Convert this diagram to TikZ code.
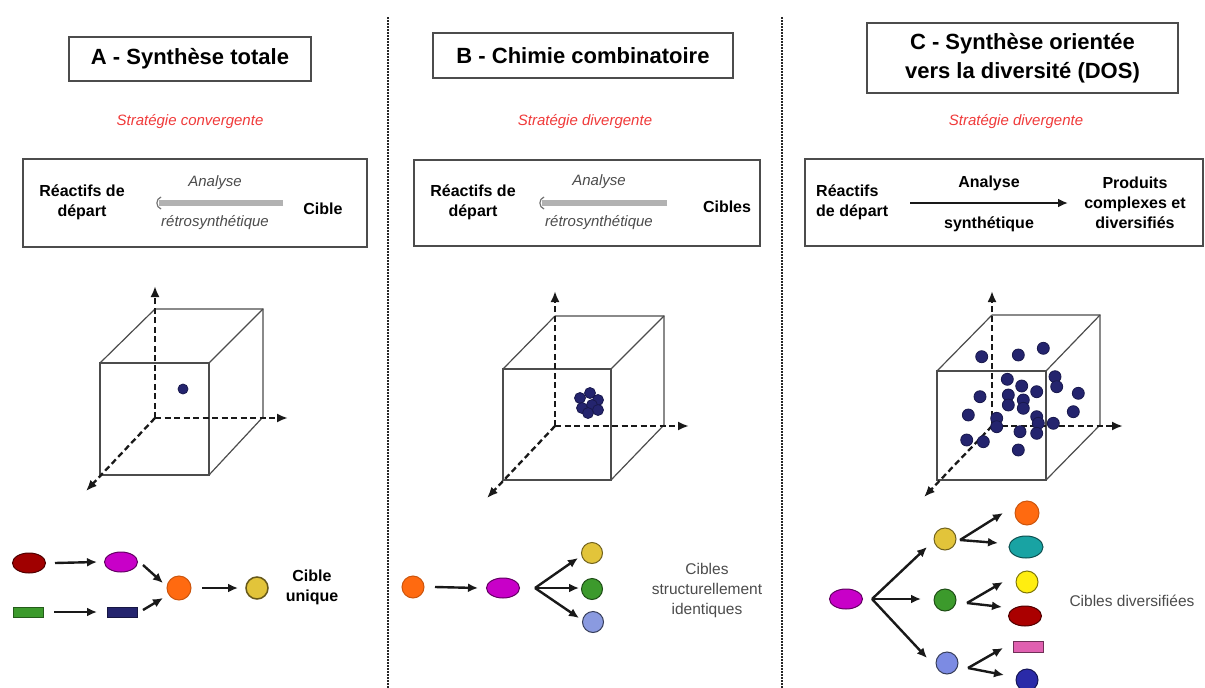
\documentclass[tikz,border=0pt]{standalone}
\usepackage{fontspec}
\setmainfont{Liberation Sans}
\usetikzlibrary{arrows.meta,shapes.geometric}
\definecolor{stratred}{HTML}{F03A3A}
\definecolor{dkred}{HTML}{A00000}
\definecolor{magen}{HTML}{C800C8}
\definecolor{orng}{HTML}{FF6A10}
\definecolor{gold}{HTML}{E2C43A}
\definecolor{grn}{HTML}{3C9A2C}
\definecolor{navy}{HTML}{24246E}
\definecolor{lblue}{HTML}{8A9AE0}
\definecolor{teal2}{HTML}{19A3A3}
\definecolor{ylw}{HTML}{FFEE10}
\definecolor{pink2}{HTML}{E060B0}
\definecolor{dblue}{HTML}{2A2AA8}
\begin{document}
\begin{tikzpicture}[x=1pt,y=-1pt,
  sepline/.style={line width=2.2pt,black!85,dash pattern=on 1.6pt off 1.4pt},
  frame/.style={draw=black!70,line width=1.5pt},
  ttl/.style={frame,font=\fontsize{22}{29}\selectfont\bfseries,align=center,inner sep=0},
  strat/.style={text=stratred,font=\fontsize{15}{18}\selectfont\itshape},
  lbl/.style={font=\fontsize{16}{19.5}\selectfont\bfseries,align=center,inner sep=0},
  ital/.style={font=\fontsize{15}{18}\selectfont\itshape,text=black!70,inner sep=0},
  plain/.style={font=\fontsize{15.5}{20}\selectfont,text=black!70,align=center,inner sep=0},
  arr/.style={-{Latex[length=10pt,width=9pt]},line width=2.4pt,black!90},
  axis/.style={-{Latex[length=11pt,width=9pt]},line width=2.3pt,black!90,dash pattern=on 6pt off 3.5pt},
  cube/.style={draw=black!70,line width=1.2pt},
  mol/.style={ellipse,draw=black!75,line width=1pt,inner sep=0,minimum width=33pt,minimum height=20pt},
  ball/.style={circle,draw=black!75,line width=1pt,inner sep=0,minimum size=22pt},
  bar/.style={rectangle,draw=black!75,line width=1pt,inner sep=0,minimum width=30pt,minimum height=10pt},
  dot/.style={circle,fill=navy,draw=navy!70!black,line width=0.8pt,inner sep=0,minimum size=11pt}
]
\useasboundingbox (0,0) rectangle (1205,688);
\fill[white] (0,0) rectangle (1205,688);

% separators
\draw[sepline] (388,17) -- (388,688);
\draw[sepline] (782,17) -- (782,688);

% ================= Panel A =================
\node[ttl,minimum width=242pt,minimum height=44pt] (tA) at (190,59) {A - Synthèse totale};
\node[strat] (sA) at (190,122) {Stratégie convergente};
\draw[frame] (23,159) rectangle (367,247);
\node[lbl] (rA) at (82,202.5) {Réactifs de\\départ};
\node[ital] (anA) at (215,183) {Analyse};
\node[ital] (reA) at (215,223) {rétrosynthétique};
\node[lbl] (cA) at (323,209) {Cible};
\coordinate (gA1) at (283,203);
\coordinate (gA2) at (159,203);
\draw[line width=6pt,black!30] (gA1) -- (gA2);
\draw[black!55,line width=1.2pt] (161,197) .. controls (155.5,199) and (155.5,207) .. (161,209);

% cube A
\draw[cube] (100,363) rectangle (209,475);
\draw[cube] (155,309) -- (263,309) -- (263,417) -- (209,475);
\draw[cube] (100,363) -- (155,309);
\draw[cube] (209,363) -- (263,309);
\coordinate (oA) at (155,418);
\coordinate (yA) at (155,286);
\coordinate (xA) at (288,418);
\coordinate (zA) at (86,491);
\draw[axis] (oA) -- (yA);
\draw[axis] (oA) -- (xA);
\draw[axis] (oA) -- (zA);
\node[dot,minimum size=10pt] (dA) at (183,389) {};

% reactions A
\node[mol,fill=dkred,draw=dkred!50!black] (a1) at (29,563) {};
\node[mol,fill=magen,draw=magen!50!black] (a2) at (121,562) {};
\node[bar,fill=grn,draw=grn!60!black] (a3) at (28,612) {};
\node[bar,fill=navy,draw=navy!60!black] (a4) at (122,612) {};
\node[ball,fill=orng,draw=orng!80!black,minimum size=24pt] (a5) at (179,588) {};
\node[ball,fill=gold,draw=gold!45!black,line width=1.5pt] (a6) at (257,588) {};
\node[lbl] (uA) at (312,587.5) {Cible\\unique};
\draw[arr] ([shift={(26,0)}]a1.center) -- ([shift={(-24,0)}]a2.center);
\draw[arr] ([shift={(26,0)}]a3.center) -- ([shift={(-25,0)}]a4.center);
\draw[arr] ([shift={(22,3)}]a2.center) -- ([shift={(-16,-5)}]a5.center);
\draw[arr] ([shift={(21,-2)}]a4.center) -- ([shift={(-16,10)}]a5.center);
\draw[arr] ([shift={(23,0)}]a5.center) -- ([shift={(-19,0)}]a6.center);

% ================= Panel B =================
\node[ttl,minimum width=300pt,minimum height=45pt] (tB) at (583,55.5) {B - Chimie combinatoire};
\node[strat] (sB) at (585,122) {Stratégie divergente};
\draw[frame] (414,160) rectangle (760,246);
\node[lbl] (rB) at (473,202.5) {Réactifs de\\départ};
\node[ital] (anB) at (599,182) {Analyse};
\node[ital] (reB) at (599,223) {rétrosynthétique};
\node[lbl] (cB) at (727,207) {Cibles};
\coordinate (gB1) at (667,203);
\coordinate (gB2) at (542,203);
\draw[line width=6pt,black!30] (gB1) -- (gB2);
\draw[black!55,line width=1.2pt] (544,197) .. controls (538.5,199) and (538.5,207) .. (544,209);

% cube B
\draw[cube] (503,369) rectangle (611,480);
\draw[cube] (555,316) -- (664,316) -- (664,425) -- (611,480);
\draw[cube] (503,369) -- (555,316);
\draw[cube] (611,369) -- (664,316);
\coordinate (oB) at (555,426);
\coordinate (yB) at (555,291);
\coordinate (xB) at (689,426);
\coordinate (zB) at (487,498);
\draw[axis] (oB) -- (yB);
\draw[axis] (oB) -- (xB);
\draw[axis] (oB) -- (zB);
\node[dot] (bd1) at (580,398) {};
\node[dot] (bd2) at (590,393) {};
\node[dot] (bd3) at (598,400) {};
\node[dot] (bd4) at (582,408) {};
\node[dot] (bd5) at (592,405) {};
\node[dot] (bd6) at (598,410) {};
\node[dot] (bd7) at (588,413) {};

% reactions B
\node[ball,fill=orng,draw=orng!80!black] (b1) at (413,587) {};
\node[mol,fill=magen,draw=magen!50!black] (b2) at (503,588) {};
\coordinate (bf) at (535,588);
\node[ball,fill=gold,draw=gold!50!black,minimum size=21pt] (b3) at (592,553) {};
\node[ball,fill=grn,draw=grn!50!black,minimum size=21pt] (b4) at (592,589) {};
\node[ball,fill=lblue,draw=lblue!40!black,minimum size=21pt] (b5) at (593,622) {};
\draw[arr] ([shift={(22,0)}]b1.center) -- ([shift={(-25,0)}]b2.center);
\draw[arr] (bf) -- ([shift={(-14,5)}]b3.center);
\draw[arr] (bf) -- ([shift={(-13,-1)}]b4.center);
\draw[arr] (bf) -- ([shift={(-14,-4)}]b5.center);
\node[plain] (lB) at (707,590) {Cibles\\structurellement\\identiques};

% ================= Panel C =================
\node[ttl,minimum width=311pt,minimum height=70pt] (tC) at (1022.5,58) {C - Synthèse orientée\\vers la diversité (DOS)};
\node[strat] (sC) at (1016,122) {Stratégie divergente};
\draw[frame] (805,159) -- (1203,159) -- (1203,246) -- (805,246) -- cycle;
\node[lbl,align=left,anchor=west] (rC) at (816,202.5) {Réactifs\\de départ};
\node[lbl] (anC) at (989,183) {Analyse};
\node[lbl] (syC) at (989,224) {synthétique};
\coordinate (kC1) at (910,203);
\coordinate (kC2) at (1068,203);
\draw[arr] (kC1) -- (kC2);
\node[lbl,font=\fontsize{16}{20}\selectfont\bfseries] (pC) at (1135,203) {Produits\\complexes et\\diversifiés};

% cube C
\draw[cube] (937,371) rectangle (1046,480);
\draw[cube] (992,315) -- (1100,315) -- (1100,425) -- (1046,480);
\draw[cube] (937,371) -- (992,315);
\draw[cube] (1046,371) -- (1100,315);
\coordinate (oC) at (992,426);
\coordinate (yC) at (992,291);
\coordinate (xC) at (1123,426);
\coordinate (zC) at (924,497);
\draw[axis] (oC) -- (yC);
\draw[axis] (oC) -- (xC);
\draw[axis] (oC) -- (zC);
\foreach \px/\py [count=\i] in {981.7/356.7, 1018.3/355, 1043.3/348.3, 1007.3/379.3, 1021.7/386, 1036.7/391.7, 1055/376.7, 1056.7/386.7, 1078.3/393.3, 980/396.7, 1008.3/395, 1008.3/405, 1023.3/400, 1023.3/408.3, 1073.3/411.7, 968.3/415, 996.7/418.3, 996.7/426.7, 1036.7/416.7, 1038.3/423.3, 1053.3/423.3, 1020/431.7, 1036.7/433.3, 966.7/440, 983.3/441.7, 1018.3/450}
  \node[dot,minimum size=12pt] (cd\i) at (\px,\py) {};

% reactions C
\node[mol,fill=magen,draw=magen!50!black] (c0) at (846,599) {};
\coordinate (cf) at (872,599);
\node[ball,fill=gold,draw=gold!50!black] (c1) at (945,539) {};
\node[ball,fill=grn,draw=grn!50!black] (c2) at (945,600) {};
\node[ball,fill=lblue!90!blue,draw=lblue!40!black] (c3) at (947,663) {};
\draw[arr] (cf) -- ([shift={(-18,8)}]c1.center);
\draw[arr] (cf) -- ([shift={(-24,-1)}]c2.center);
\draw[arr] (cf) -- ([shift={(-20,-5)}]c3.center);
\node[ball,fill=orng,draw=orng!80!black,minimum size=24pt] (c4) at (1027,513) {};
\node[mol,fill=teal2,draw=teal2!50!black,minimum width=34pt,minimum height=22pt] (c5) at (1026,547) {};
\node[ball,fill=ylw,draw=ylw!50!black] (c6) at (1027,582) {};
\node[mol,fill=dkred!90!red,draw=dkred!50!black] (c7) at (1025,616) {};
\node[bar,fill=pink2,draw=pink2!50!black,minimum height=11pt] (c8) at (1028,647) {};
\node[ball,fill=dblue,draw=dblue!50!black] (c9) at (1027,680) {};
\coordinate (c1f) at (960,540);
\coordinate (c2f) at (967,603);
\coordinate (c3f) at (968,668);
\draw[arr] (c1f) -- ([shift={(-24,0)}]c4.center);
\draw[arr] (c1f) -- ([shift={(-28,-4)}]c5.center);
\draw[arr] (c2f) -- ([shift={(-24,0)}]c6.center);
\draw[arr] (c2f) -- ([shift={(-23,-9)}]c7.center);
\draw[arr] (c3f) -- ([shift={(-25,1)}]c8.center);
\draw[arr] (c3f) -- ([shift={(-23,-5)}]c9.center);
\node[plain] (lC) at (1132,601) {Cibles diversifiées};
\end{tikzpicture}
\end{document}
